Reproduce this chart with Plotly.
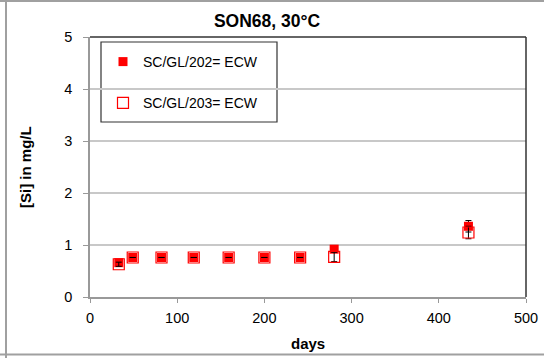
import plotly.graph_objects as go

# Leaching time (days) and silicon concentration in mg/L
days = [33, 49, 82, 119, 159, 200, 241, 280, 434]
si_202 = [0.66, 0.76, 0.76, 0.76, 0.76, 0.76, 0.76, 0.92, 1.36]
err_202 = [0, 0, 0, 0, 0, 0, 0, 0.05, 0.11]
si_203 = [0.63, 0.76, 0.76, 0.76, 0.76, 0.76, 0.76, 0.77, 1.24]
err_203 = [0.04, 0, 0, 0, 0, 0, 0, 0.09, 0.12]

x_ticks = [0, 100, 200, 300, 400, 500]
y_ticks = [0, 1, 2, 3, 4, 5]

FONT = "Arial, Liberation Sans, sans-serif"
W, H = 544, 358
L, R, T, B = 90, 18, 37, 61
PW, PH = W - L - R, H - T - B


def px_x(p):
    return (p - L) / PW


def px_y(p):
    return (H - B - p) / PH


fig = go.Figure()

fig.add_trace(go.Scatter(
    x=days, y=si_202, mode="markers", name="SC/GL/202= ECW",
    legendgroup="a",
    marker=dict(symbol="square", size=9, color="#ff0000",
                line=dict(width=0)),
    error_y=dict(type="data", array=err_202, color="black",
                 thickness=1, width=3),
))
fig.add_trace(go.Scatter(
    x=days, y=si_203, mode="markers", name="SC/GL/203= ECW",
    legendgroup="b",
    marker=dict(symbol="square-open", size=11, color="#ff0000",
                line=dict(width=1.2)),
    error_y=dict(type="data", array=err_203, color="black",
                 thickness=1, width=3),
))

shapes = [
    # dark frame on top and right of the plot area
    dict(type="line", xref="paper", yref="paper", x0=0, x1=1, y0=1, y1=1,
         line=dict(color="#333333", width=1.5)),
    dict(type="line", xref="paper", yref="paper", x0=1, x1=1, y0=0, y1=1,
         line=dict(color="#333333", width=1.5)),
    # legend box
    dict(type="rect", xref="paper", yref="paper",
         x0=px_x(101), x1=px_x(277), y0=px_y(122), y1=px_y(42),
         line=dict(color="#333333", width=1.2), fillcolor="white",
         layer="below"),
    # outer chart frame
    dict(type="line", xref="paper", yref="paper",
         x0=px_x(6), x1=px_x(6), y0=px_y(0), y1=px_y(358),
         line=dict(color="#a0a0a0", width=2)),
    dict(type="line", xref="paper", yref="paper",
         x0=px_x(0), x1=px_x(544), y0=px_y(1), y1=px_y(1),
         line=dict(color="#a0a0a0", width=2)),
    dict(type="line", xref="paper", yref="paper",
         x0=px_x(0), x1=px_x(544), y0=px_y(354.5), y1=px_y(354.5),
         line=dict(color="#a0a0a0", width=2)),
]

annotations = [
    dict(text="<b>days</b>", xref="paper", yref="paper",
         x=0.5, y=px_y(343), xanchor="center", yanchor="middle",
         showarrow=False, font=dict(family=FONT, size=15, color="black")),
    dict(text="<b>[Si] in mg/L</b>", xref="paper", yref="paper",
         x=px_x(25), y=0.5, xanchor="center", yanchor="middle",
         textangle=-90, showarrow=False,
         font=dict(family=FONT, size=15, color="black")),
]

fig.update_layout(
    width=W, height=H,
    margin=dict(l=L, r=R, t=T, b=B, autoexpand=False),
    paper_bgcolor="white", plot_bgcolor="white",
    font=dict(family=FONT, size=14, color="black"),
    title=dict(text="<b>SON68, 30°C</b>", x=267 / W, xref="container",
               xanchor="center", y=1 - 21 / H, yref="container",
               yanchor="middle",
               font=dict(family=FONT, size=17.5, color="black")),
    xaxis=dict(range=[0, 500], tickvals=x_ticks, showgrid=False,
               zeroline=False, showline=True, linecolor="#999999",
               linewidth=1.5, ticks="outside", ticklen=4,
               tickcolor="#999999", tickfont=dict(size=14.5),
               ticklabelstandoff=3),
    yaxis=dict(range=[0, 5], tickvals=y_ticks, showgrid=True,
               gridcolor="#c8c8c8", gridwidth=1.5, zeroline=False,
               showline=True, linecolor="#999999", linewidth=1.5,
               ticks="outside", ticklen=5, tickcolor="#999999",
               tickfont=dict(size=14.5), ticklabelstandoff=8),
    showlegend=True,
    legend=dict(x=px_x(103), y=px_y(46), xanchor="left", yanchor="top",
                bgcolor="rgba(0,0,0,0)", borderwidth=0,
                font=dict(family=FONT, size=14, color="black"),
                tracegroupgap=20, traceorder="grouped"),
    shapes=shapes, annotations=annotations,
)

fig.write_html("out.html")
